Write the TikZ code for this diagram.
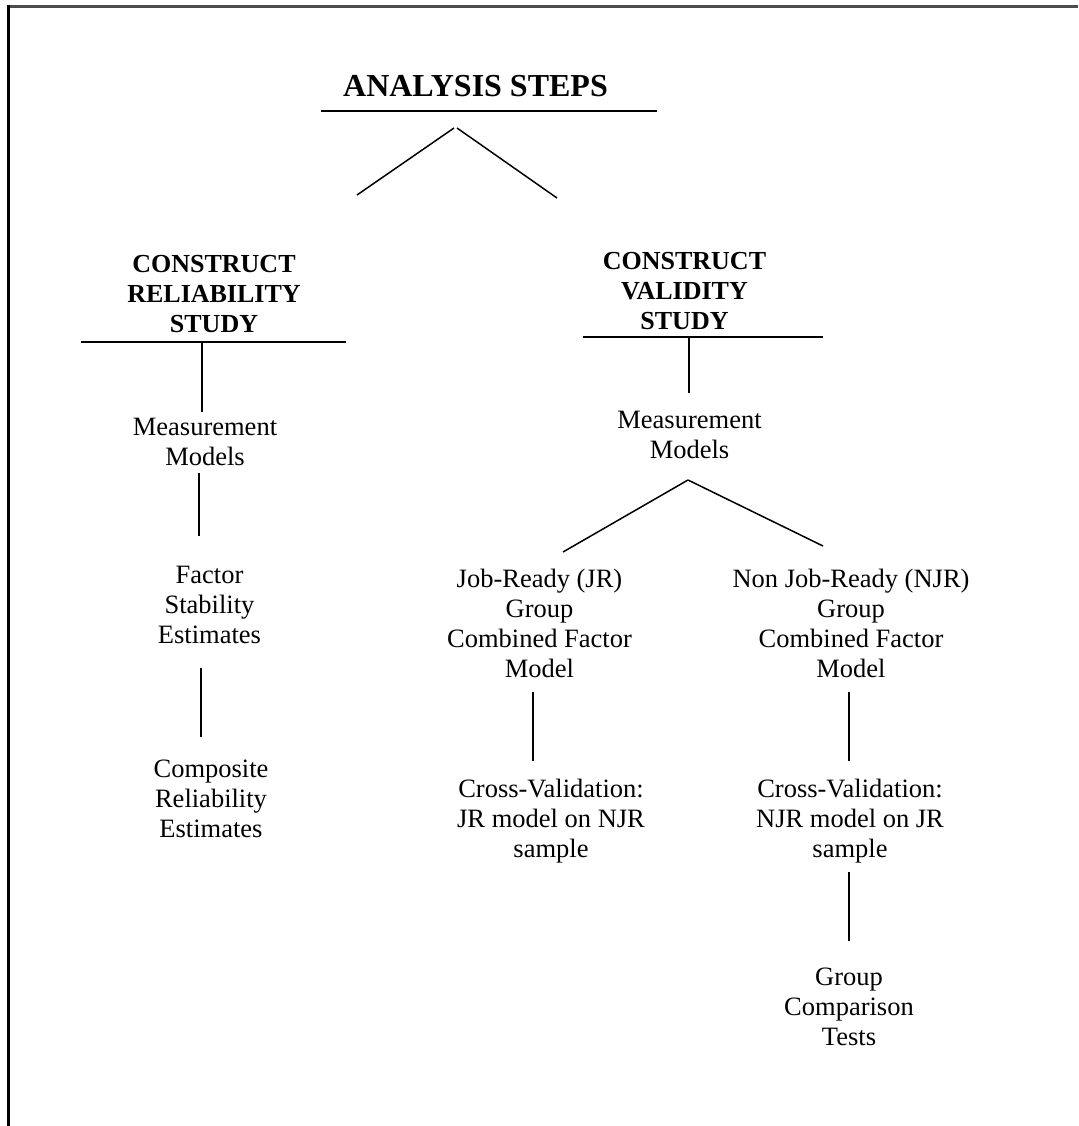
\documentclass[tikz,border=0pt]{standalone}
\usepackage{fontspec}
\setmainfont{Liberation Serif}
\newcommand\blk[1]{\begin{tabular}[t]{@{}c@{}}#1\end{tabular}}
\tikzset{
  txt/.style={font=\fontsize{26.5}{30}\selectfont, inner sep=0pt, anchor=base},
  hd/.style={font=\fontsize{26}{30}\selectfont\bfseries, inner sep=0pt, anchor=base},
  ttl/.style={font=\fontsize{32}{36}\selectfont\bfseries, inner sep=0pt, anchor=base},
  ln/.style={line width=1.5pt, black},
  frame/.style={line width=3pt, black},
}
\begin{document}
\begin{tikzpicture}[x=1pt,y=-1pt]
\useasboundingbox (0,0) rectangle (1078,1126);
% frame
\coordinate (f1) at (1078,7);
\coordinate (f2) at (8,7);
\coordinate (f3) at (8,1126);
\draw[frame, black!70] (f1) -- (f2);
\draw[frame] (8,5.5) -- (f3);

% texts
\node[ttl] (title) at (475.5,97) {ANALYSIS STEPS};
\node[hd] (relhead) at (214,272) {\blk{CONSTRUCT\\RELIABILITY\\STUDY}};
\node[hd] (valhead) at (684.5,269) {\blk{CONSTRUCT\\VALIDITY\\STUDY}};
\node[txt] (lmeas) at (205,435) {\blk{Measurement\\Models}};
\node[txt] (lfactor) at (209.5,583) {\blk{Factor\\Stability\\Estimates}};
\node[txt] (lcomp) at (211,777) {\blk{Composite\\Reliability\\Estimates}};
\node[txt] (rmeas) at (689.5,428) {\blk{Measurement\\Models}};
\node[txt] (jr) at (539.5,587) {\blk{Job-Ready (JR)\\Group\\Combined Factor\\Model}};
\node[txt] (njr) at (851,587) {\blk{Non Job-Ready (NJR)\\Group\\Combined Factor\\Model}};
\node[txt] (jrcv) at (551,797) {\blk{Cross-Validation:\\JR model on NJR\\sample}};
\node[txt] (njrcv) at (850,797) {\blk{Cross-Validation:\\NJR model on JR\\sample}};
\node[txt] (grp) at (849,985) {\blk{Group\\Comparison\\Tests}};

% line end points
\coordinate (tu1) at (321,111);  \coordinate (tu2) at (657,111);
\coordinate (va) at (454,128);   \coordinate (vb) at (457,128);
\coordinate (vl) at (357,195);   \coordinate (vr) at (557,198);
\coordinate (ru1) at (81,342);   \coordinate (ru2) at (346,342);
\coordinate (rv1) at (202,342);  \coordinate (rv2) at (202,412);
\coordinate (l1a) at (199,473);  \coordinate (l1b) at (199,536);
\coordinate (l2a) at (201,668);  \coordinate (l2b) at (201,737);
\coordinate (vu1) at (583,337);  \coordinate (vu2) at (823,337);
\coordinate (vv1) at (689,337);  \coordinate (vv2) at (689,393);
\coordinate (ma) at (688,480);
\coordinate (ml) at (563,552);   \coordinate (mr) at (823,546);
\coordinate (j1) at (533,692);   \coordinate (j2) at (533,761);
\coordinate (n1) at (849,692);   \coordinate (n2) at (849,761);
\coordinate (g1) at (849,872);   \coordinate (g2) at (849,941);

\draw[ln] (tu1) -- (tu2);
\draw[ln] (va) -- (vl);
\draw[ln] (vb) -- (vr);
\draw[ln] (ru1) -- (ru2);
\draw[ln] (rv1) -- (rv2);
\draw[ln] (l1a) -- (l1b);
\draw[ln] (l2a) -- (l2b);
\draw[ln] (vu1) -- (vu2);
\draw[ln] (vv1) -- (vv2);
\draw[ln] (ma) -- (ml);
\draw[ln] (ma) -- (mr);
\draw[ln] (j1) -- (j2);
\draw[ln] (n1) -- (n2);
\draw[ln] (g1) -- (g2);
\end{tikzpicture}
\end{document}
